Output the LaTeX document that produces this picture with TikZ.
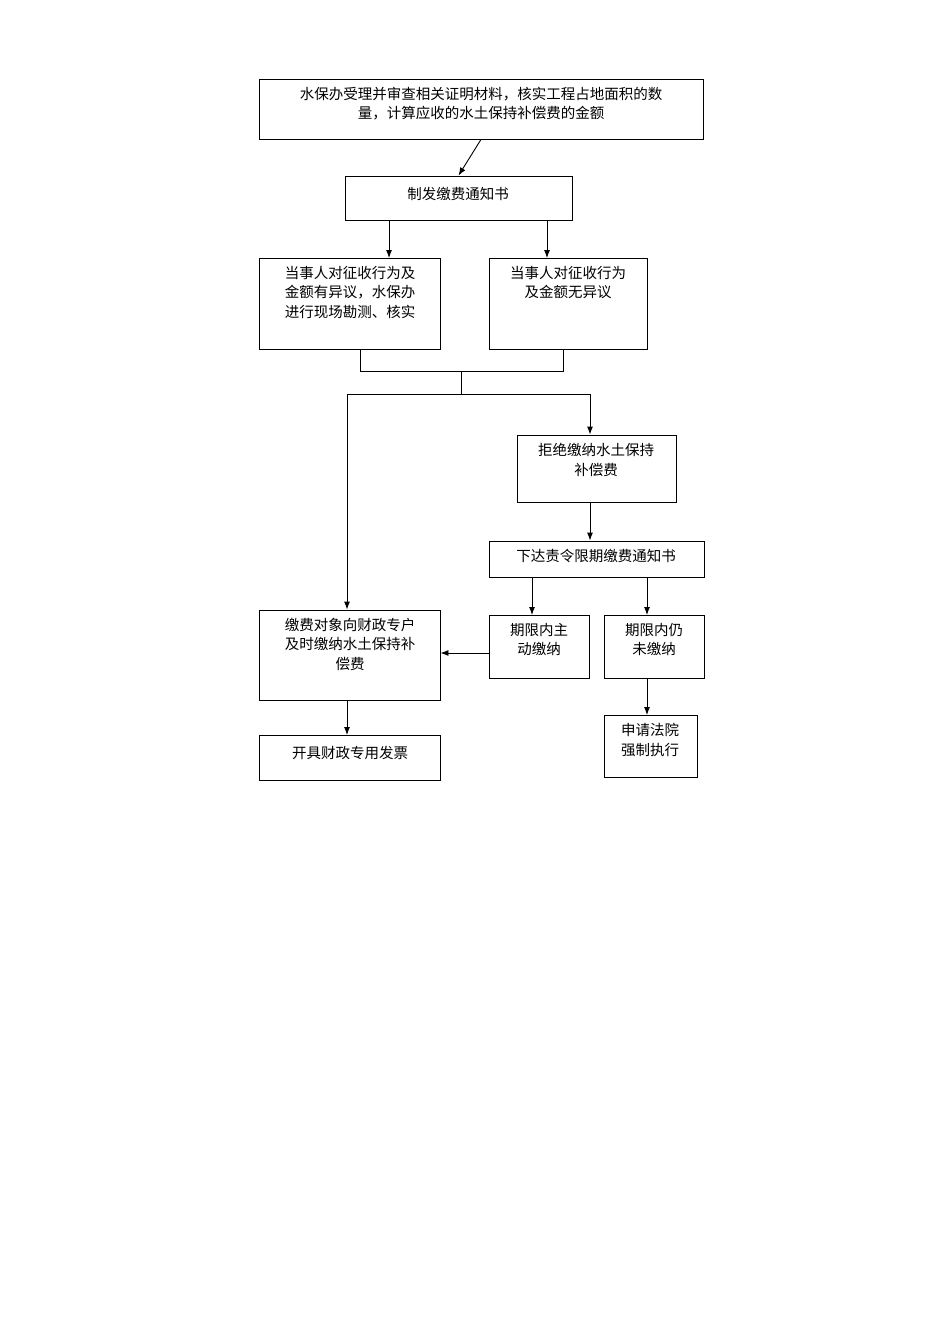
\documentclass[tikz,border=0pt]{standalone}
\usepackage{fontspec}
\setmainfont{Noto Sans CJK SC}
\usetikzlibrary{arrows.meta}
\begin{document}
\begin{tikzpicture}[x=1pt,y=-1pt,
  box/.style={draw,line width=0.9pt,inner sep=0pt},
  txt/.style={anchor=north,align=center,font=\fontsize{14.5}{19.5}\selectfont,inner sep=0pt},
  arr/.style={-{Latex[length=8pt,width=6pt]},line width=0.9pt},
  ln/.style={line width=0.9pt}]
\useasboundingbox (0,0) rectangle (950,1344);
\newcommand\bx[5]{\node[box,minimum width=#4-#2,minimum height=#5-#3] (#1) at ({(#2+#4)/2},{(#3+#5)/2}) {};}
\bx{b1}{259}{79}{703}{139}
\bx{b2}{345}{176}{572}{220}
\bx{b3}{259}{258}{440}{349}
\bx{b4}{489}{258}{647}{349}
\bx{b5}{517}{435}{676}{502}
\bx{b6}{489}{541}{704}{577}
\bx{b7}{259}{610}{440}{700}
\bx{b8}{489}{615}{589}{678}
\bx{b9}{604}{615}{704}{678}
\bx{b10}{259}{735}{440}{780}
\bx{b11}{604}{715}{697}{777}
\node[txt] (t1) at (481,87) {水保办受理并审查相关证明材料，核实工程占地面积的数\\量，计算应收的水土保持补偿费的金额};
\node[txt] (t2) at (458,187) {制发缴费通知书};
\node[txt] (t3) at (350,266) {当事人对征收行为及\\金额有异议，水保办\\进行现场勘测、核实};
\node[txt] (t4) at (568,266) {当事人对征收行为\\及金额无异议};
\node[txt] (t5) at (596,443) {拒绝缴纳水土保持\\补偿费};
\node[txt] (t6) at (596,549) {下达责令限期缴费通知书};
\node[txt] (t7) at (350,618) {缴费对象向财政专户\\及时缴纳水土保持补\\偿费};
\node[txt] (t8) at (539,623) {期限内主\\动缴纳};
\node[txt] (t9) at (654,623) {期限内仍\\未缴纳};
\node[txt] (t10) at (350,746) {开具财政专用发票};
\node[txt] (t11) at (650,723) {申请法院\\强制执行};
\coordinate (j1) at (360,371); \coordinate (j2) at (563,371);
\coordinate (j3) at (461,371); \coordinate (j4) at (461,394);
\coordinate (jl) at (347,394); \coordinate (jr) at (590,394);
\draw[arr] (b1.south) -- (b2.north);
\draw[arr] (389,220) -- (389,258);
\draw[arr] (547,220) -- (547,258);
\draw[ln] (b3.south -| j1) -- (j1) -- (j2) -- (b4.south -| j2);
\draw[ln] (j3) -- (j4);
\draw[ln] (jl) -- (jr);
\draw[arr] (jl) -- (b7.north -| jl);
\draw[arr] (jr) -- (b5.north -| jr);
\draw[arr] (b5.south -| jr) -- (b6.north -| jr);
\draw[arr] (532,577) -- (532,615);
\draw[arr] (647,577) -- (647,615);
\draw[arr] (b8.west |- 0,653) -- (b7.east |- 0,653);
\draw[arr] (347,700) -- (347,735);
\draw[arr] (647,678) -- (647,715);
\end{tikzpicture}
\end{document}
